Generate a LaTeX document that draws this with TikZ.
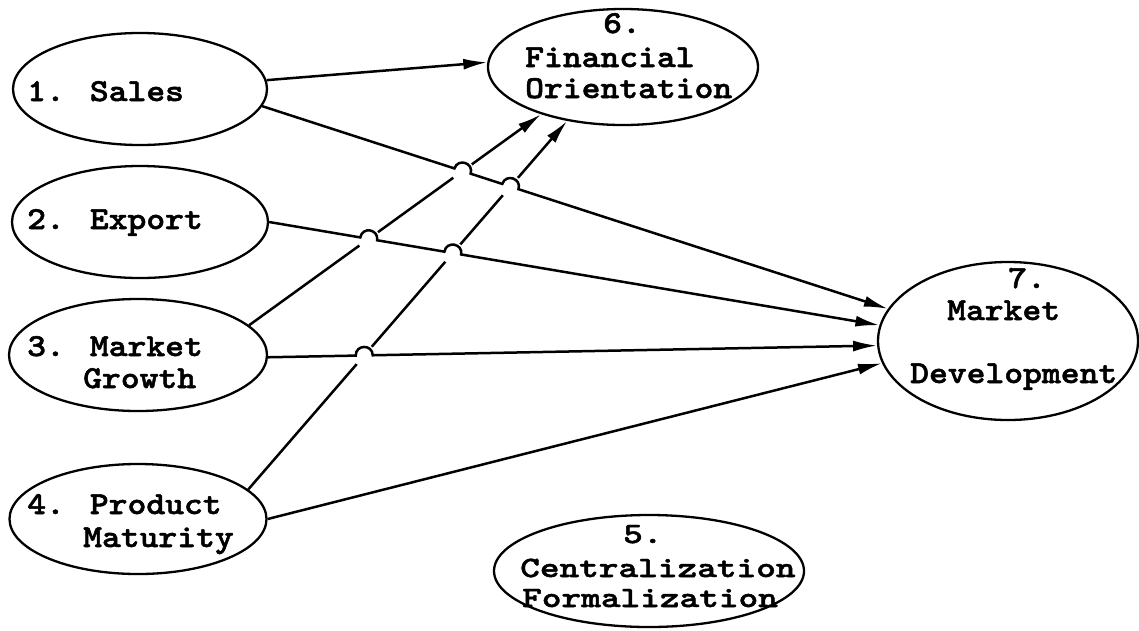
\documentclass[tikz,border=0pt]{standalone}
\usepackage{fontspec}
\newfontfamily\cour{lmmonolt10-bold.otf}[FakeStretch=1.12,FakeBold=1.6]
\newfontfamily\courwide{lmmonolt10-bold.otf}[FakeStretch=1.27,FakeBold=1.6]
\usetikzlibrary{shapes.geometric,arrows.meta,intersections,calc}

% a line hop: points on either side of a crossing, plus the Bezier controls
% of a small half-circle raised above the line; clears the line underneath
\newcommand\hopat[3]{%
  \coordinate (#1-l) at ($(#1)!8.5pt!(#2)$);
  \coordinate (#1-r) at ($(#1)!8.5pt!(#3)$);
  \coordinate (#1-u) at ($(#1)!11.3pt!90:(#3)$);
  \coordinate (#1-cl) at ($(#1-l)+(#1-u)-(#1)$);
  \coordinate (#1-cr) at ($(#1-r)+(#1-u)-(#1)$);
  \fill[white] (#1) circle[radius=11.5pt];
}

\tikzset{
  oval/.style={ellipse, draw, line width=2.3pt, inner sep=0pt},
  lbl/.style={inner sep=0pt, anchor=base west,
    font=\cour\fontsize{32}{34}\selectfont},
  widelbl/.style={lbl, font=\courwide\fontsize{29.5}{32}\selectfont},
  link/.style={line width=2.5pt, -{Latex[length=24pt,width=11pt]}},
}

\begin{document}
\begin{tikzpicture}[x=1pt,y=-1pt]
\useasboundingbox (0,0) rectangle (1139,630);

% constructs
\node[oval, minimum width=254pt, minimum height=112pt] (n1) at (140,89) {};
\node[oval, minimum width=256pt, minimum height=112pt] (n2) at (140,222) {};
\node[oval, minimum width=258pt, minimum height=112pt] (n3) at (138,355) {};
\node[oval, minimum width=257pt, minimum height=110pt] (n4) at (138,519) {};
\node[oval, minimum width=270pt, minimum height=116pt] (n6) at (623,67) {};
\node[oval, minimum width=260pt, minimum height=158pt] (n7) at (1008,341) {};
\node[oval, minimum width=310pt, minimum height=112pt] (n5) at (649,571) {};

% labels
\node[lbl] (t1) at (27,101) {1. Sales};
\node[lbl] (t2) at (27,229) {2. Export};
\node[lbl] (t3a) at (27,356) {3. Market};
\node[lbl] (t3b) at (83,388) {Growth};
\node[lbl] (t4a) at (27,514) {4. Product};
\node[lbl] (t4b) at (83,547) {Maturity};
\node[lbl] (t6a) at (603,33) {6.};
\node[lbl] (t6b) at (525,67) {Financial};
\node[lbl] (t6c) at (525,98) {Orientation};
\node[lbl] (t7a) at (1008,288) {7.};
\node[lbl] (t7b) at (947,320) {Market};
\node[lbl] (t7c) at (910,383) {Development};
\node[widelbl] (t5a) at (623,543) {5.};
\node[widelbl] (t5b) at (520,577) {Centralization};
\node[widelbl] (t5c) at (522,607) {Formalization};

% paths into Financial Orientation (drawn underneath)
\draw[link] (n1.4) -- (n6.178);
\draw[link, name path=p36] (n3.15) -- (n6.210);
\draw[link, name path=p46] (n4.15) -- (n6.224);

% paths into Market Development
\path[name path=p17] (n1.-8) -- (n7.165);
\path[name path=p27] (n2.0) -- (n7.173);
\path[name path=p37] (n3.-1) -- (n7.182);

\path[name intersections={of=p17 and p36, by=xa}];
\path[name intersections={of=p17 and p46, by=xb}];
\path[name intersections={of=p27 and p36, by=xc}];
\path[name intersections={of=p27 and p46, by=xd}];
\path[name intersections={of=p37 and p46, by=xe}];

\hopat{xa}{n1.-8}{n7.165}
\hopat{xb}{n1.-8}{n7.165}
\hopat{xc}{n2.0}{n7.173}
\hopat{xd}{n2.0}{n7.173}
\hopat{xe}{n3.-1}{n7.182}

\draw[link] (n1.-8) -- (xa-l) .. controls (xa-cl) and (xa-cr) .. (xa-r)
  -- (xb-l) .. controls (xb-cl) and (xb-cr) .. (xb-r) -- (n7.165);
\draw[link] (n2.0) -- (xc-l) .. controls (xc-cl) and (xc-cr) .. (xc-r)
  -- (xd-l) .. controls (xd-cl) and (xd-cr) .. (xd-r) -- (n7.173);
\draw[link] (n3.-1) -- (xe-l) .. controls (xe-cl) and (xe-cr) .. (xe-r)
  -- (n7.182);
\draw[link] (n4.0) -- (n7.190);
\end{tikzpicture}
\end{document}
